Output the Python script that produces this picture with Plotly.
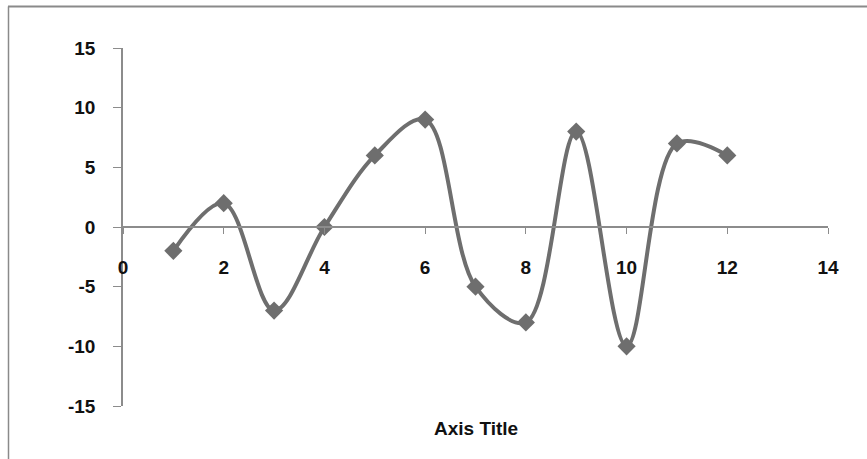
import plotly.graph_objects as go

x_vals = [1, 2, 3, 4, 5, 6, 7, 8, 9, 10, 11, 12]
y_vals = [-2, 2, -7, 0, 6, 9, -5, -8, 8, -10, 7, 6]
x_ticks = [0, 2, 4, 6, 8, 10, 12, 14]
y_ticks = [-15, -10, -5, 0, 5, 10, 15]
x_title = "Axis Title"

W, H = 867, 459
L, R, T, B = 123, 39, 48, 53
pw, ph = W - L - R, H - T - B

def px(xp):
    return (xp - L) / pw

def py(yp):
    return (H - B - yp) / ph

col = "#6e6e6e"
axcol = "#8c8c8c"
fam = "Liberation Sans, Arial, sans-serif"
tfont = dict(family=fam, size=19, color="#111111", weight="bold")

fig = go.Figure()
fig.add_trace(go.Scatter(
    x=x_vals, y=y_vals, mode="lines+markers",
    line=dict(color=col, width=4, shape="spline", smoothing=1.0),
    marker=dict(symbol="diamond", size=14, color=col),
    showlegend=False, cliponaxis=False,
))

fig.update_layout(
    width=W, height=H,
    margin=dict(l=L, r=R, t=T, b=B),
    paper_bgcolor="white", plot_bgcolor="white",
    xaxis=dict(
        range=[0, 14], tickvals=x_ticks, ticktext=[str(v) for v in x_ticks],
        showgrid=False, zeroline=False, showline=True, linecolor=axcol, linewidth=2,
        anchor="free", position=0.5,
        ticks="outside", ticklen=6, tickcolor=axcol, tickwidth=1,
        tickfont=tfont, ticklabelstandoff=17,
    ),
    yaxis=dict(
        range=[-15, 15], tickvals=y_ticks, ticktext=[str(v) for v in y_ticks],
        showgrid=False, zeroline=False, showline=True, linecolor=axcol, linewidth=1.5,
        ticks="outside", ticklen=8, tickcolor=axcol, tickwidth=1,
        tickfont=tfont, ticklabelstandoff=14,
    ),
    annotations=[dict(
        text="<b>" + x_title + "</b>", x=0.5, y=py(428), xref="paper", yref="paper",
        showarrow=False, xanchor="center", yanchor="middle",
        font=dict(family=fam, size=19, color="#111111"),
    )],
    shapes=[
        dict(type="line", xref="paper", yref="paper", x0=px(8), x1=px(870), y0=py(6.5), y1=py(6.5),
             line=dict(color="#8a8a8a", width=2)),
        dict(type="line", xref="paper", yref="paper", x0=px(8.5), x1=px(8.5), y0=py(6.5), y1=py(465),
             line=dict(color="#8a8a8a", width=1.5)),
    ],
)

fig.write_html("out.html", config={"displayModeBar": False},
               post_script="document.body.style.margin='0';document.body.style.overflow='hidden';")
